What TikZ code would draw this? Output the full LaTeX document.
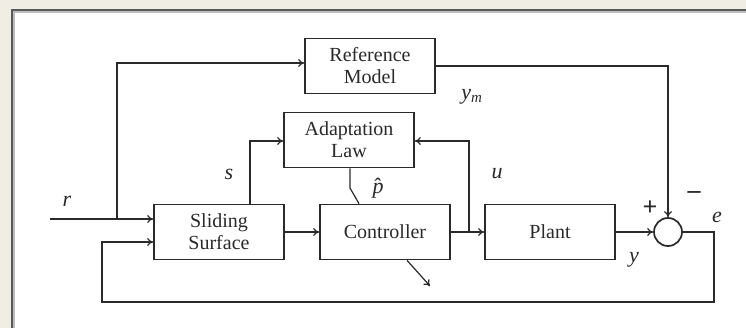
\documentclass[tikz,border=0pt]{standalone}
\usepackage{fontspec}
\setmainfont{Liberation Serif}
\usetikzlibrary{arrows.meta}
\definecolor{paper}{HTML}{EFEDE4}
\definecolor{frameg}{HTML}{5A5A5A}
\definecolor{ink}{HTML}{2A2A2A}
\tikzset{
  blk/.style={draw=ink, line width=1.7pt, fill=white, minimum width=130pt, minimum height=55pt,
    inner sep=0pt, align=center, font=\fontsize{20}{22}\selectfont, text=ink},
  wire/.style={draw=ink, line width=1.2pt},
  sig/.style={wire, -{To[length=6pt,width=8pt]}},
  lbl/.style={font=\fontsize{22}{22}\selectfont\itshape, text=ink, inner sep=0pt},
  sgn/.style={font=\fontsize{26}{26}\selectfont\bfseries, text=ink, inner sep=0pt},
}
\begin{document}
\begin{tikzpicture}[x=1pt, y=-1pt]
  \useasboundingbox (0,0) rectangle (746,328);
  % page and panel
  \fill[paper] (0,0) rectangle (746,328);
  \fill[white] (12,10) rectangle (750,332);
  \draw[frameg!40, line width=2pt] (14,332) -- (14,12) -- (750,12);
  \draw[frameg, line width=1.4pt] (12,332) -- (12,10) -- (750,10);

  % blocks
  \node[blk] (ref)   at (370,66)  {Reference\\Model};
  \node[blk] (adapt) at (349,140) {Adaptation\\Law};
  \node[blk] (slide) at (219,232) {Sliding\\Surface};
  \node[blk] (ctrl)  at (385,232) {Controller};
  \node[blk] (plant) at (550,232) {Plant};
  \node[draw=ink, line width=1.7pt, circle, minimum size=28pt, inner sep=0pt] (sum) at (668,232) {};

  % auxiliary points
  \coordinate (rin)  at (50,219);
  \coordinate (rbr)  at (117,219);
  \coordinate (ubr)  at (469,232);
  \coordinate (fbr)  at (714,232);
  \coordinate (fbl)  at (102,302);
  \coordinate (pk)   at (350,188);
  \coordinate (dout) at (430,286);

  % reference input and reference model branch
  \draw[sig] (rin) -- (rbr) -- (slide.west |- rbr);
  \draw[sig] (rbr) |- (ref.west |- 0,63);
  \draw[sig] (ref.east |- 0,66) -| (sum.north);

  % forward path
  \draw[sig] (slide.east) -- (ctrl.west);
  \draw[sig] (ctrl.east) -- (plant.west);
  \draw[sig] (plant.east) -- (sum.west);

  % adaptation signals
  \draw[sig] (slide.north -| 250,0) |- (adapt.west |- 0,141);
  \draw[sig] (ubr) |- (adapt.east |- 0,141);
  \draw[wire] (adapt.south -| pk) -- (pk) -- (ctrl.north -| 359,0);

  % error feedback
  \draw[sig] (sum.east) -- (fbr) |- (fbl) |- (slide.west |- 0,242);

  % controller auxiliary output
  \draw[sig] (ctrl.south -| 407,0) -- (dout);

  % labels
  \node[lbl] at (67,201) {r};
  \node[lbl] at (229,174) {s};
  \node[lbl] at (497,174) {u};
  \node[lbl] at (378,188) {\^{p}};
  \node[lbl] at (472,97) {y\textsubscript{\fontsize{15}{15}\selectfont m}};
  \node[lbl] at (634,260) {y};
  \node[lbl] at (717,217) {e};
  \node[sgn] at (650,208) {+};
  \node[sgn] at (694,195) {\textendash};
\end{tikzpicture}
\end{document}
